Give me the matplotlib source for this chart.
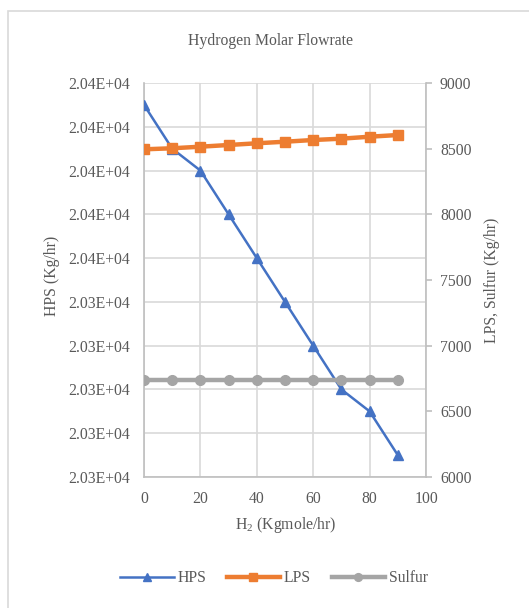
import numpy as np
import matplotlib.pyplot as plt
from matplotlib.patches import Rectangle
from matplotlib.ticker import FixedLocator, FuncFormatter

plt.rcParams['font.family'] = ['Liberation Serif', 'DejaVu Serif']
plt.rcParams['mathtext.fontset'] = 'custom'
plt.rcParams['mathtext.rm'] = 'Liberation Serif'

# data
h2 = [0, 10, 20, 30, 40, 50, 60, 70, 80, 90]
hps = [20357.0, 20355.0, 20354.0, 20352.0, 20350.0, 20348.0, 20346.0, 20344.0, 20343.0, 20341.0]
lps = [8495, 8503, 8515, 8528, 8541, 8553, 8566, 8576, 8591, 8604]
sulfur = [6738, 6738, 6738, 6738, 6738, 6738, 6738, 6738, 6738, 6738]

hps_ticks = [20340, 20342, 20344, 20346, 20348, 20350, 20352, 20354, 20356, 20358]
right_ticks = [6000, 6500, 7000, 7500, 8000, 8500, 9000]
x_ticks = [0, 20, 40, 60, 80, 100]

txt = '#595959'
grid = '#D9D9D9'
axcol = '#BFBFBF'
fs = 11.3

W, H = 529, 608
fig = plt.figure(figsize=(W / 100, H / 100), dpi=100)
# chart border (only top and left visible in the crop)
fig.patches.append(Rectangle((8 / W, -0.1), 1.2, 1 - 11 / H + 0.1, transform=fig.transFigure,
                             fill=False, edgecolor='#D9D9D9', linewidth=1.2))

ax = fig.add_axes([144 / W, 1 - 477 / H, 282 / W, 394 / H])
ax2 = ax.twinx()

ax.plot(h2, hps, color='#4472C4', lw=1.8, marker='^', ms=6.5, label='HPS', zorder=3)
ax2.plot(h2, lps, color='#ED7D31', lw=3.2, marker='s', ms=7, label='LPS', zorder=3)
ax2.plot(h2, sulfur, color='#A5A5A5', lw=3.2, marker='o', ms=7, label='Sulfur', zorder=3)

ax.set_xlim(0, 100)
ax.set_ylim(hps_ticks[0], hps_ticks[-1])
ax2.set_ylim(6000, 9000)
ax.xaxis.set_major_locator(FixedLocator(x_ticks))
ax.yaxis.set_major_locator(FixedLocator(hps_ticks))
ax.yaxis.set_major_formatter(FuncFormatter(lambda v, p: '{:.2E}'.format(v)))
ax2.yaxis.set_major_locator(FixedLocator(right_ticks))

ax.grid(True, color=grid, lw=1.2)
ax.set_axisbelow(True)
ax.spines['top'].set_visible(False)
ax2.spines['top'].set_visible(False)
ax.spines['right'].set_visible(False)
ax2.spines['left'].set_visible(False)
ax2.spines['bottom'].set_visible(False)
for sp in [ax.spines['left'], ax.spines['bottom'], ax2.spines['right']]:
    sp.set_color(axcol)
    sp.set_linewidth(1.2)

ax.tick_params(axis='y', length=0, labelsize=fs, labelcolor=txt, pad=10)
ax.tick_params(axis='x', length=0, labelsize=fs, labelcolor=txt, pad=10)
ax2.tick_params(axis='y', length=4, color=axcol, width=1.2, labelsize=fs, labelcolor=txt, pad=6)

fig.text(286 / W, 1 - 525 / H, 'H$_2$ (Kgmole/hr)', ha='center', va='center', fontsize=fs, color=txt)
fig.text(52 / W, 1 - 276 / H, 'HPS (Kg/hr)', ha='center', va='center', rotation=90,
         fontsize=fs, color=txt)
fig.text(492 / W, 1 - 280 / H, 'LPS, Sulfur (Kg/hr)', ha='center', va='center', rotation=90,
         fontsize=fs, color=txt)
fig.text(270 / W, 1 - 41 / H, 'Hydrogen Molar Flowrate', ha='center', va='center',
         fontsize=fs, color=txt)

h1, l1 = ax.get_legend_handles_labels()
h2_, l2 = ax2.get_legend_handles_labels()
fig.legend(h1 + h2_, l1 + l2, loc='center', bbox_to_anchor=(274 / W, 1 - 578 / H), ncol=3,
           frameon=False, fontsize=fs, labelcolor=txt, handlelength=3.4, handletextpad=0.25,
           columnspacing=1.3, markerscale=0.8)

fig.savefig('out.png', dpi=100)
